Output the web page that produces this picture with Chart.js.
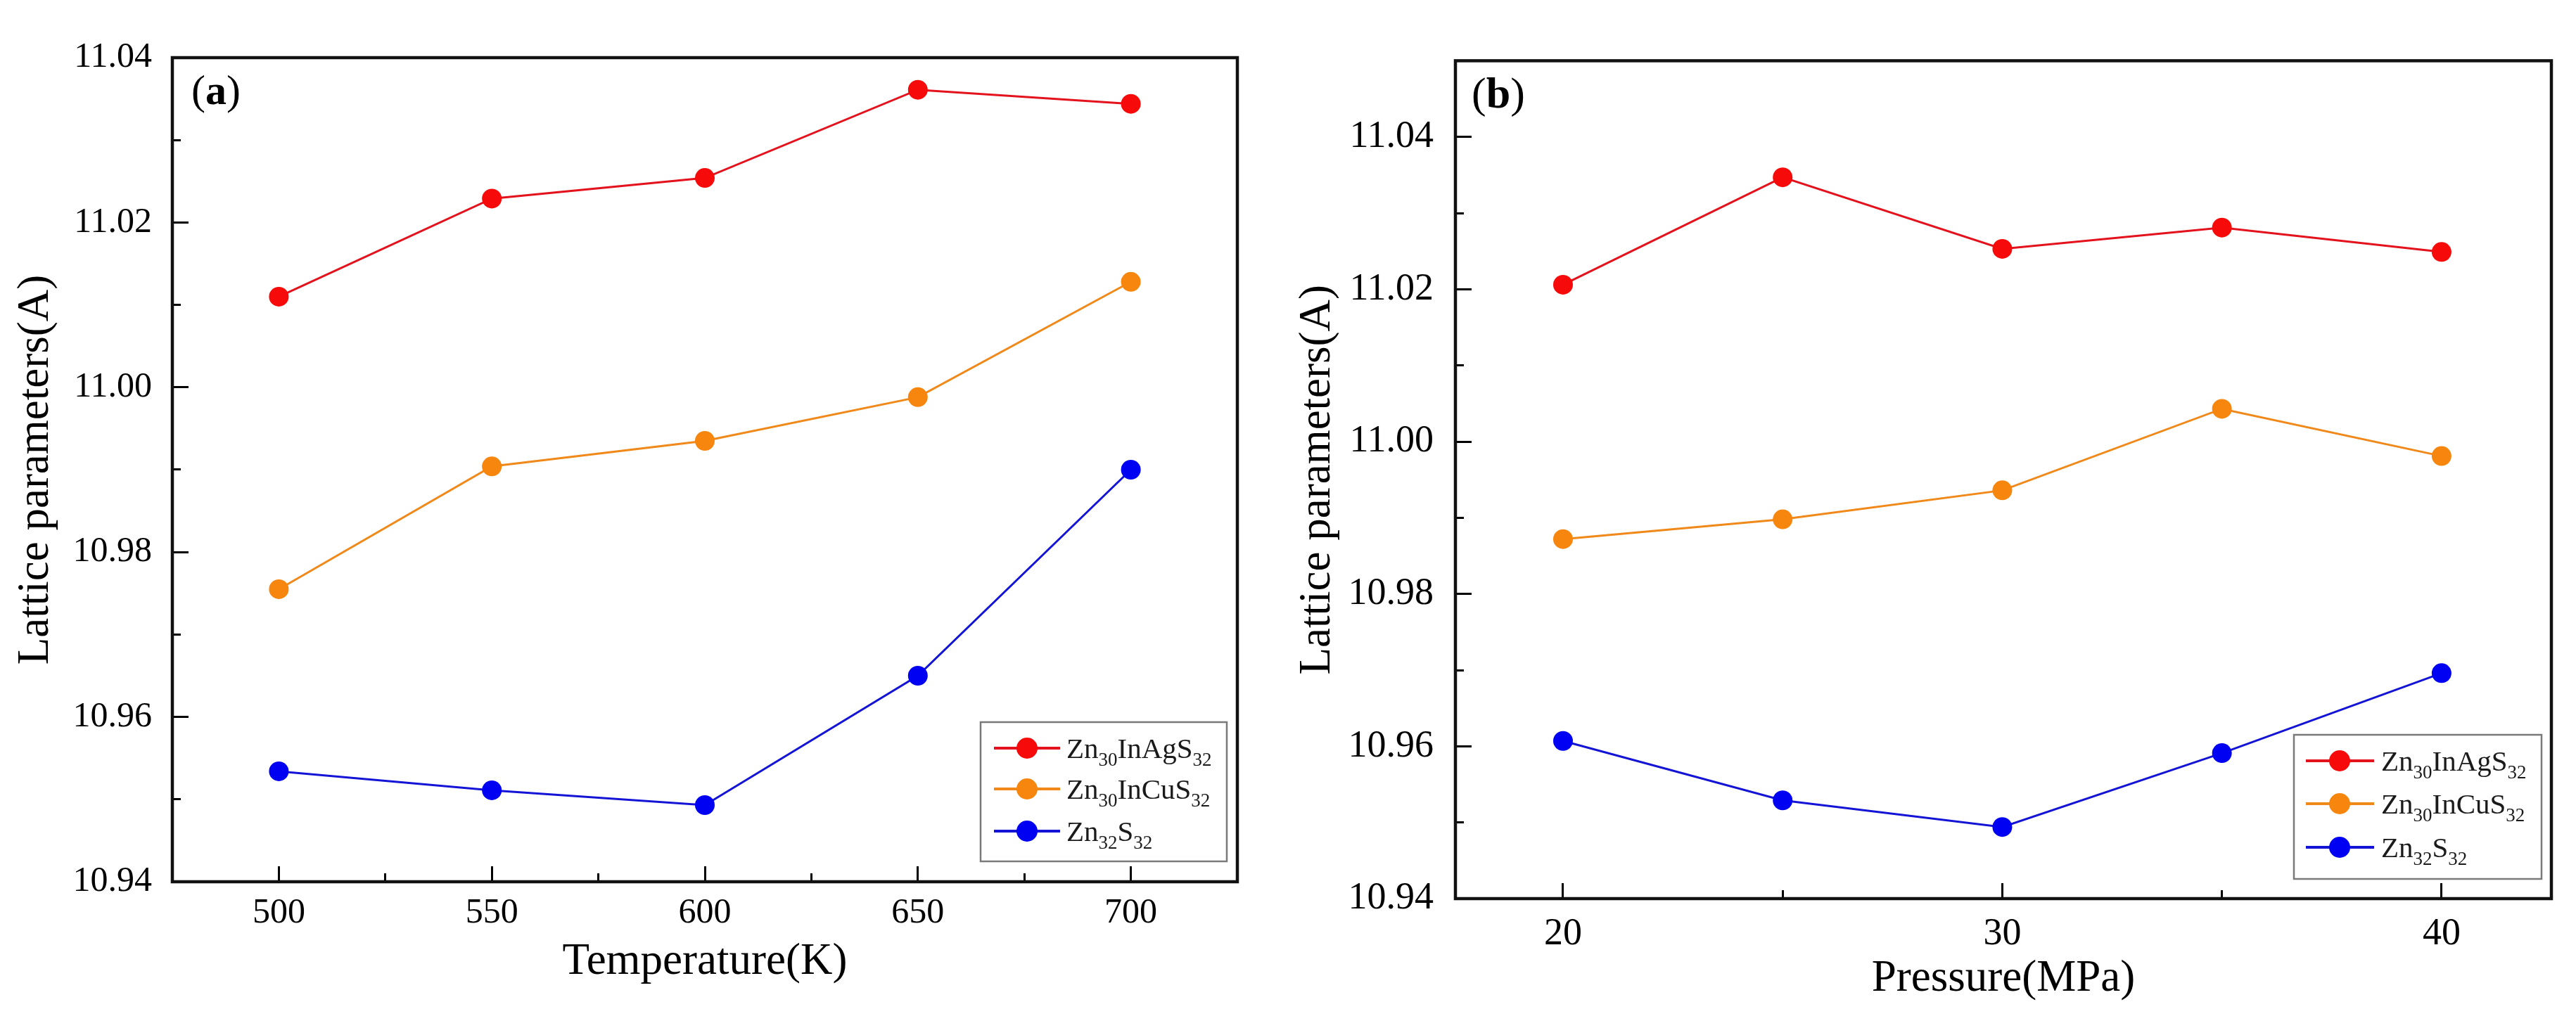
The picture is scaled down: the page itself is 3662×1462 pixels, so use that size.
<!DOCTYPE html>
<html>
<head>
<meta charset="utf-8">
<title>Lattice parameters</title>
<script src="https://cdn.jsdelivr.net/npm/chart.js@4.4.1/dist/chart.umd.min.js"></script>
<style>
  html, body { margin: 0; padding: 0; background: #fff; }
  #wrap { position: relative; width: 3662px; height: 1462px; overflow: hidden; }
  #wrap canvas { position: absolute; top: 0; }
  #chartA { left: 0; }
  #chartB { left: 1790px; }
</style>
</head>
<body>
<div id="wrap">
  <canvas id="chartA" width="1800" height="1462"></canvas>
  <canvas id="chartB" width="1872" height="1462"></canvas>
</div>
<script>
// series names (the _NN parts are drawn as subscripts in the legend)
const seriesLabels = ['Zn_30InAgS_32', 'Zn_30InCuS_32', 'Zn_32S_32'];

// (a) temperature sweep
const temperatures = [500, 550, 600, 650, 700];
const tempInAgS = [11.0110, 11.0229, 11.0254, 11.0361, 11.0344];
const tempInCuS = [10.9755, 10.9904, 10.9935, 10.9988, 11.0128];
const tempZnS   = [10.9534, 10.9511, 10.9493, 10.9650, 10.9900];

// (b) pressure sweep
const pressures = [20, 25, 30, 35, 40];
const presInAgS = [11.0206, 11.0347, 11.0253, 11.0281, 11.0249];
const presInCuS = [10.9872, 10.9898, 10.9936, 11.0043, 10.9981];
const presZnS   = [10.9607, 10.9529, 10.9494, 10.9591, 10.9696];

// tick labels
const tempTicks      = [500, 550, 600, 650, 700];
const tempMinorTicks = [525, 575, 625, 675];
const presTicks      = [20, 30, 40];
const presMinorTicks = [25, 35];
const latticeTicks      = [10.94, 10.96, 10.98, 11.00, 11.02, 11.04];
const latticeMinorTicks = [10.95, 10.97, 10.99, 11.01, 11.03];

const lineColors  = ['#e3121c', '#f0891a', '#1414d6'];
const pointColors = ['#f60a0a', '#f7860e', '#0000f2'];

const SERIF = '"Liberation Serif", "Times New Roman", serif';
Chart.defaults.font.family = SERIF;
Chart.defaults.color = '#000';

// box round the plot area
const frameBox = {
  id: 'frameBox',
  afterDatasetsDraw(chart, args, opts) {
    const { ctx, chartArea: a } = chart;
    ctx.save();
    ctx.strokeStyle = '#111';
    ctx.lineWidth = opts.width;
    ctx.strokeRect(a.left, a.top, a.right - a.left, a.bottom - a.top);
    ctx.restore();
  }
};

// "(a)" / "(b)" tag, letter in bold
const panelTag = {
  id: 'panelTag',
  afterDraw(chart, args, opts) {
    const { ctx, chartArea } = chart;
    let x = chartArea.left + opts.dx;
    const y = chartArea.top + opts.dy;
    ctx.save();
    ctx.fillStyle = '#000';
    ctx.textAlign = 'left';
    ctx.textBaseline = 'alphabetic';
    [['(', 'normal'], [opts.text, 'bold'], [')', 'normal']].forEach(([t, w]) => {
      ctx.font = `${w} ${opts.size}px ${SERIF}`;
      ctx.fillText(t, x, y);
      x += ctx.measureText(t).width;
    });
    ctx.restore();
  }
};

// legend with subscripts
const formulaLegend = {
  id: 'formulaLegend',
  afterDraw(chart, args, o) {
    const ctx = chart.ctx;
    ctx.save();
    ctx.fillStyle = '#fff';
    ctx.fillRect(o.x, o.y, o.w, o.h);
    ctx.strokeStyle = '#7a7a7a';
    ctx.lineWidth = 2.5;
    ctx.strokeRect(o.x, o.y, o.w, o.h);
    chart.data.datasets.forEach((ds, i) => {
      const cy = o.y + o.rows[i];
      ctx.strokeStyle = ds.borderColor;
      ctx.lineWidth = 4;
      ctx.beginPath();
      ctx.moveTo(o.x + o.line[0], cy);
      ctx.lineTo(o.x + o.line[1], cy);
      ctx.stroke();
      ctx.fillStyle = ds.pointBackgroundColor;
      Chart.helpers.drawPoint(ctx, { pointStyle: 'circle', radius: o.radius, borderWidth: 0, rotation: 0 }, o.x + o.marker, cy);

      let tx = o.x + o.text;
      ctx.fillStyle = '#1a1a1a';
      ctx.textAlign = 'left';
      ctx.textBaseline = 'alphabetic';
      seriesLabels[i].split(/_(\d+)/).forEach((part, k) => {
        if (!part) return;
        const sub = k % 2 === 1;
        ctx.font = `${sub ? o.subSize : o.size}px ${SERIF}`;
        ctx.fillText(part, tx, cy + o.base + (sub ? o.subDrop : 0));
        tx += ctx.measureText(part).width;
      });
    });
    ctx.restore();
  }
};

function buildSets(xs, seriesList) {
  return seriesList.map((vals, i) => ({
    label: seriesLabels[i].replace(/_/g, ''),
    data: xs.map((x, k) => ({ x: x, y: vals[k] })),
    borderColor: lineColors[i],
    backgroundColor: pointColors[i],
    pointBackgroundColor: pointColors[i],
    pointBorderWidth: 0,
    pointRadius: 14,
    borderWidth: 3,
    tension: 0
  }));
}

function buildScales(o) {
  const marks = { drawOnChartArea: false, tickColor: '#000', tickWidth: 3 };
  return {
    x: {
      type: 'linear', position: 'bottom', weight: 1,
      min: o.xMin, max: o.xMax,
      afterBuildTicks: s => { s.ticks = o.xTicks.map(v => ({ value: v })); },
      afterFit: s => { s.height = o.xHeight; },
      ticks: { padding: o.xPad, font: { size: o.tickSize }, color: '#000', maxRotation: 0, autoSkip: false },
      grid: Object.assign({}, marks, { tickLength: -22 }),
      border: { display: false },
      title: { display: true, text: o.xTitle, color: '#000', font: { size: 63 }, padding: { top: 0, bottom: o.xTitlePad } }
    },
    xMinor: {
      type: 'linear', position: 'bottom', weight: 0,
      min: o.xMin, max: o.xMax,
      afterBuildTicks: s => { s.ticks = o.xMinor.map(v => ({ value: v })); },
      afterFit: s => { s.height = 0; },
      ticks: { display: false },
      grid: Object.assign({}, marks, { tickLength: -12 }),
      border: { display: false }
    },
    y: {
      type: 'linear', position: 'left', weight: 1,
      min: o.yMin, max: o.yMax,
      afterBuildTicks: s => { s.ticks = latticeTicks.map(v => ({ value: v })); },
      afterFit: s => { s.width = o.yWidth; },
      ticks: { padding: o.yPad, font: { size: o.tickSize }, color: '#000', callback: v => v.toFixed(2) },
      grid: Object.assign({}, marks, { tickLength: -23 }),
      border: { display: false },
      title: { display: true, text: 'Lattice parameters(A)', color: '#000', font: { size: 63 }, padding: { top: o.yTitlePad, bottom: 0 } }
    },
    yMinor: {
      type: 'linear', position: 'left', weight: 0,
      min: o.yMin, max: o.yMax,
      afterBuildTicks: s => { s.ticks = latticeMinorTicks.map(v => ({ value: v })); },
      afterFit: s => { s.width = 0; },
      ticks: { display: false },
      grid: Object.assign({}, marks, { tickLength: -12 }),
      border: { display: false }
    }
  };
}

function makeChart(id, datasets, o) {
  return new Chart(document.getElementById(id), {
    type: 'line',
    data: { datasets: datasets },
    plugins: [frameBox, panelTag, formulaLegend],
    options: {
      responsive: false,
      devicePixelRatio: 1,
      animation: false,
      layout: { padding: o.padding },
      scales: buildScales(o),
      plugins: {
        legend: { display: false },
        tooltip: { enabled: false },
        frameBox: { width: 4.5 },
        panelTag: o.tag,
        formulaLegend: o.legend
      }
    }
  });
}

// (a)
makeChart('chartA', buildSets(temperatures, [tempInAgS, tempInCuS, tempZnS]), {
  xMin: 475, xMax: 725, xTicks: tempTicks, xMinor: tempMinorTicks,
  yMin: 10.94, yMax: 11.04,
  xTitle: 'Temperature(K)',
  tickSize: 50, xPad: 37, yPad: 52,
  xHeight: 208, yWidth: 245, xTitlePad: 56, yTitlePad: 14,
  padding: { top: 53, right: 41, bottom: 0, left: 0 },
  tag: { text: 'a', dx: 27, dy: 66, size: 60 },
  legend: { x: 1394, y: 1027, w: 350, h: 198, rows: [37, 95, 155], line: [19, 113], marker: 66, text: 122,
            radius: 15, size: 41, subSize: 27, base: 14, subDrop: 11 }
});

// (b)
makeChart('chartB', buildSets(pressures, [presInAgS, presInCuS, presZnS]), {
  xMin: 17.55, xMax: 42.5, xTicks: presTicks, xMinor: presMinorTicks,
  yMin: 10.94, yMax: 11.05,
  xTitle: 'Pressure(MPa)',
  tickSize: 54, xPad: 40, yPad: 54,
  xHeight: 184, yWidth: 279, xTitlePad: 32, yTitlePad: 46,
  padding: { top: 20, right: 35, bottom: 0, left: 0 },
  tag: { text: 'b', dx: 23, dy: 67, size: 62 },
  legend: { x: 1471, y: 1045, w: 352, h: 205, rows: [37, 98, 160], line: [17, 114], marker: 65, text: 124,
            radius: 15, size: 41, subSize: 27, base: 14, subDrop: 11 }
});
</script>
</body>
</html>
